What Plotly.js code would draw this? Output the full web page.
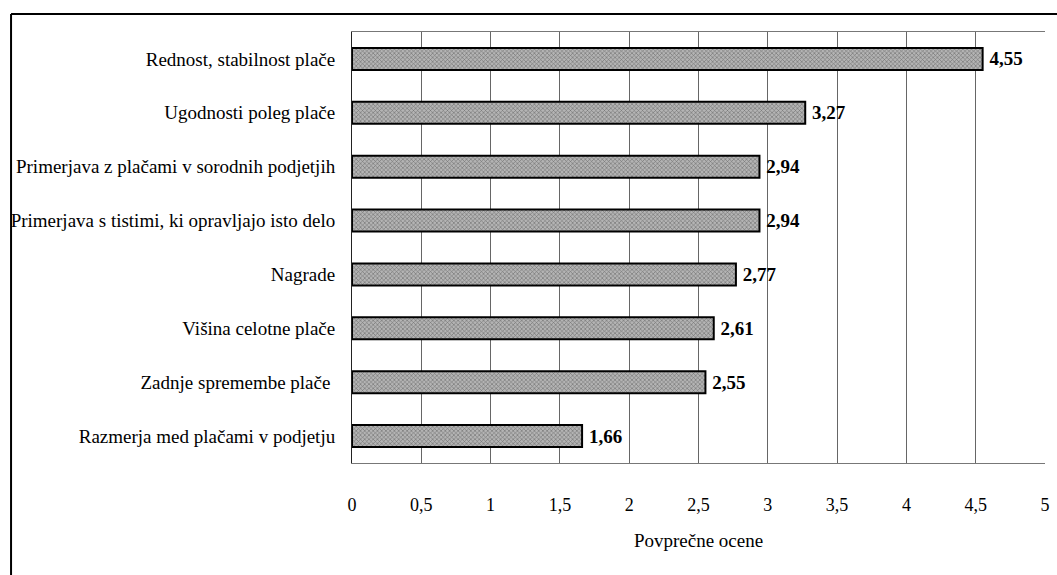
<!DOCTYPE html>
<html>
<head>
<meta charset="utf-8">
<script src="https://cdn.plot.ly/plotly-3.0.1.min.js"></script>
<style>html,body{margin:0;padding:0;background:#fff;}#chart{width:1057px;height:575px;}</style>
</head>
<body>
<div id="chart"></div>
<script>
const categories = [
  "Rednost, stabilnost plače",
  "Ugodnosti poleg plače",
  "Primerjava z plačami v sorodnih podjetjih",
  "Primerjava s tistimi, ki opravljajo isto delo",
  "Nagrade",
  "Višina celotne plače",
  "Zadnje spremembe plače ",
  "Razmerja med plačami v podjetju"
];
const values = [4.55, 3.27, 2.94, 2.94, 2.77, 2.61, 2.55, 1.66];
const xTickVals = [0, 0.5, 1, 1.5, 2, 2.5, 3, 3.5, 4, 4.5, 5];
const xTickText = ["0", "0,5", "1", "1,5", "2", "2,5", "3", "3,5", "4", "4,5", "5"];
const xTitle = "Povprečne ocene";

const labels = values.map(v => '\u2009' + v.toFixed(2).replace('.', ','));
const serif = "'Liberation Serif', 'Times New Roman', Times, serif";

const trace = {
  type: 'bar',
  orientation: 'h',
  x: values,
  y: categories,
  text: labels,
  textposition: 'outside',
  cliponaxis: false,
  textfont: {family: serif, size: 19, color: '#000', weight: 'bold'},
  marker: {
    color: '#a6a6a6',
    line: {color: '#000', width: 2},
    pattern: {shape: 'x', fgcolor: '#6e6e6e', bgcolor: '#b4b4b4', size: 3, solidity: 0.35}
  },
  hoverinfo: 'none'
};

const layout = {
  width: 1057,
  height: 575,
  margin: {l: 352, r: 12, t: 32, b: 112},
  paper_bgcolor: '#fff',
  plot_bgcolor: '#fff',
  showlegend: false,
  bargap: 0.59,
  font: {family: serif, size: 18, color: '#000'},
  xaxis: {
    range: [0, 5],
    tickvals: xTickVals,
    ticktext: xTickText,
    showgrid: true,
    gridcolor: '#666',
    gridwidth: 1,
    zeroline: false,
    showline: true,
    linecolor: '#777',
    linewidth: 1,
    mirror: true,
    ticks: '',
    ticklabelstandoff: 25,
    tickfont: {family: serif, size: 18, color: '#000'},
    title: {text: xTitle, font: {family: serif, size: 19, color: '#000'}, standoff: 20},
    fixedrange: true
  },
  yaxis: {
    type: 'category',
    autorange: false,
    range: [7.5, -0.5],
    showgrid: false,
    zeroline: false,
    showline: true,
    linecolor: '#222',
    linewidth: 1,
    ticks: '',
    ticklabelstandoff: 12,
    tickfont: {family: serif, size: 19, color: '#000'},
    fixedrange: true
  },
  shapes: [
    {type: 'line', xref: 'paper', yref: 'paper', x0: -0.492, x1: 1.02, y0: 1.0418, y1: 1.0418, line: {color: '#000', width: 2}},
    {type: 'line', xref: 'paper', yref: 'paper', x0: -0.492, x1: -0.492, y0: 1.0418, y1: -0.27, line: {color: '#000', width: 2}}
  ]
};

Plotly.newPlot('chart', [trace], layout, {displayModeBar: false, staticPlot: true});
</script>
</body>
</html>
